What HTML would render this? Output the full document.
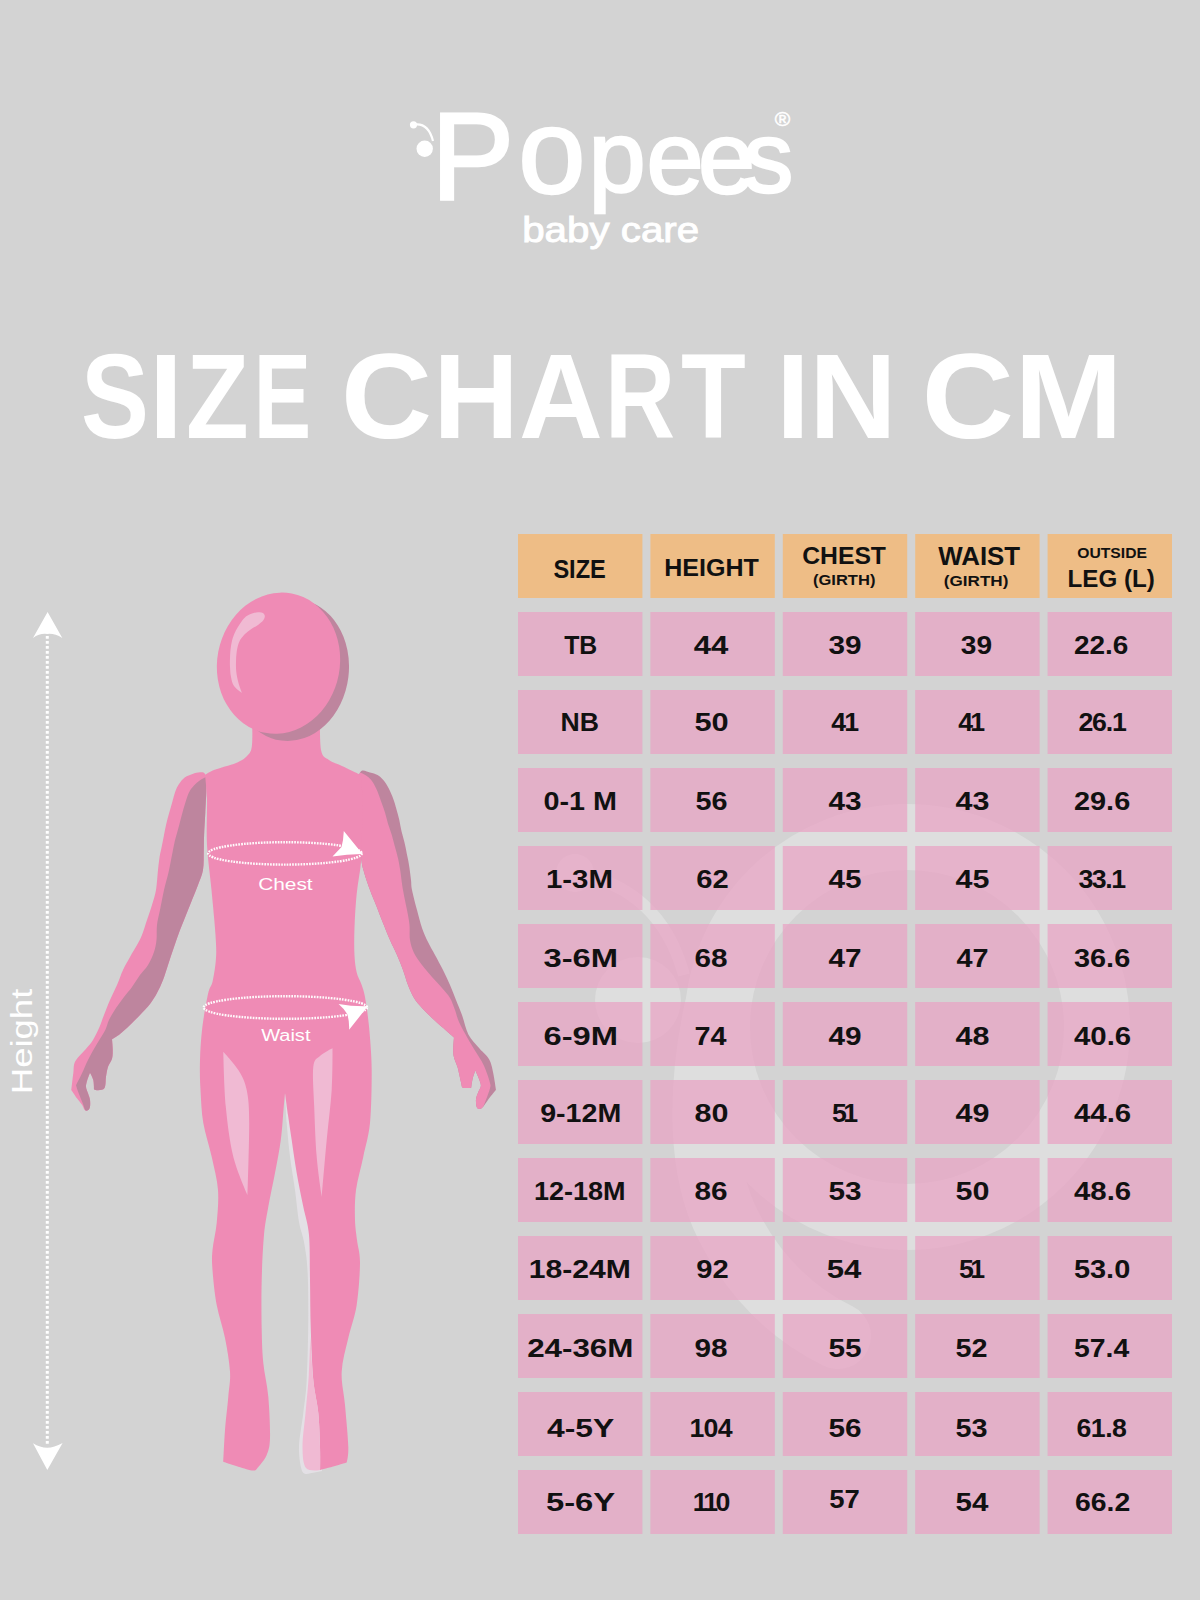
<!DOCTYPE html>
<html><head><meta charset="utf-8"><title>Popees Size Chart in CM</title>
<style>
html,body{margin:0;padding:0;background:#d3d3d3;}
body{width:1200px;height:1600px;overflow:hidden;position:relative;}
svg{position:absolute;left:0;top:0;display:block;}
</style></head>
<body>
<svg width="1200" height="1600" viewBox="0 0 1200 1600">
<rect width="1200" height="1600" fill="#d3d3d3"/>
<g fill="#fff">
<circle cx="424.7" cy="148.7" r="8.2"/>
<circle cx="413.5" cy="124.8" r="3.6"/>
<path d="M413.5 124.8 Q428 122 433 141" fill="none" stroke="#fff" stroke-width="2.2"/>
<text transform="scale(1.000 1)" font-family="Liberation Sans, sans-serif" stroke="#fff" stroke-width="2.4"><tspan x="431.0" y="199.0" font-size="125.0">P</tspan><tspan x="518.3" y="192.6" font-size="120.9">o</tspan><tspan x="588.4" y="191.5" font-size="102.8">p</tspan><tspan x="646.5" y="192.7" font-size="102.7">e</tspan><tspan x="698.0" y="192.7" font-size="102.7">e</tspan><tspan x="743.5" y="191.5" font-size="99.7">s</tspan></text>
<text x="782.5" y="126" font-family="Liberation Sans, sans-serif" font-size="21" text-anchor="middle" stroke="#fff" stroke-width="0.5">&#174;</text>
<text x="522.2" y="242" font-family="Liberation Sans, sans-serif" font-size="35" stroke="#fff" stroke-width="0.9" textLength="177" lengthAdjust="spacingAndGlyphs">baby care</text>
</g>
<g fill="#fff" font-family="Liberation Sans, sans-serif" font-weight="bold" font-size="120.6">
<text y="438"><tspan x="81.04" textLength="67.91" lengthAdjust="spacingAndGlyphs">S</tspan><tspan x="148.73" textLength="34.35" lengthAdjust="spacingAndGlyphs">I</tspan><tspan x="186.12" textLength="62.76" lengthAdjust="spacingAndGlyphs">Z</tspan><tspan x="253.77" textLength="57.37" lengthAdjust="spacingAndGlyphs">E</tspan></text>
<text y="438"><tspan x="340.97" textLength="91.06" lengthAdjust="spacingAndGlyphs">C</tspan><tspan x="433.27" textLength="85.53" lengthAdjust="spacingAndGlyphs">H</tspan><tspan x="519.06" textLength="83.88" lengthAdjust="spacingAndGlyphs">A</tspan><tspan x="604.91" textLength="70.12" lengthAdjust="spacingAndGlyphs">R</tspan><tspan x="681.10" textLength="64.79" lengthAdjust="spacingAndGlyphs">T</tspan></text>
<text y="438"><tspan x="776.05" textLength="33.89" lengthAdjust="spacingAndGlyphs">I</tspan><tspan x="809.33" textLength="87.42" lengthAdjust="spacingAndGlyphs">N</tspan></text>
<text y="438"><tspan x="921.89" textLength="92.18" lengthAdjust="spacingAndGlyphs">C</tspan><tspan x="1014.20" textLength="108.57" lengthAdjust="spacingAndGlyphs">M</tspan></text>
</g>
<g opacity="0.25" fill="#fff">
<circle cx="907" cy="1027" r="190" fill="none" stroke="#fff" stroke-width="66"/>
<path d="M717 1010 C700 1090 700 1170 728 1225 S795 1315 838 1336" fill="none" stroke="#fff" stroke-width="66" stroke-linecap="round"/>
<circle cx="638" cy="1000" r="43"/>
<circle cx="575" cy="873" r="19"/>
<path d="M684 975 Q660 888 575 873" fill="none" stroke="#fff" stroke-width="12"/>
</g>
<rect x="518.0" y="534" width="124.4" height="64" fill="#eebd86"/>
<rect x="650.4" y="534" width="124.4" height="64" fill="#eebd86"/>
<rect x="782.8" y="534" width="124.4" height="64" fill="#eebd86"/>
<rect x="915.2" y="534" width="124.4" height="64" fill="#eebd86"/>
<rect x="1047.6" y="534" width="124.4" height="64" fill="#eebd86"/>
<rect x="518.0" y="612" width="124.4" height="64" fill="rgba(234,161,195,0.7)"/>
<rect x="650.4" y="612" width="124.4" height="64" fill="rgba(234,161,195,0.7)"/>
<rect x="782.8" y="612" width="124.4" height="64" fill="rgba(234,161,195,0.7)"/>
<rect x="915.2" y="612" width="124.4" height="64" fill="rgba(234,161,195,0.7)"/>
<rect x="1047.6" y="612" width="124.4" height="64" fill="rgba(234,161,195,0.7)"/>
<rect x="518.0" y="690" width="124.4" height="64" fill="rgba(234,161,195,0.7)"/>
<rect x="650.4" y="690" width="124.4" height="64" fill="rgba(234,161,195,0.7)"/>
<rect x="782.8" y="690" width="124.4" height="64" fill="rgba(234,161,195,0.7)"/>
<rect x="915.2" y="690" width="124.4" height="64" fill="rgba(234,161,195,0.7)"/>
<rect x="1047.6" y="690" width="124.4" height="64" fill="rgba(234,161,195,0.7)"/>
<rect x="518.0" y="768" width="124.4" height="64" fill="rgba(234,161,195,0.7)"/>
<rect x="650.4" y="768" width="124.4" height="64" fill="rgba(234,161,195,0.7)"/>
<rect x="782.8" y="768" width="124.4" height="64" fill="rgba(234,161,195,0.7)"/>
<rect x="915.2" y="768" width="124.4" height="64" fill="rgba(234,161,195,0.7)"/>
<rect x="1047.6" y="768" width="124.4" height="64" fill="rgba(234,161,195,0.7)"/>
<rect x="518.0" y="846" width="124.4" height="64" fill="rgba(234,161,195,0.7)"/>
<rect x="650.4" y="846" width="124.4" height="64" fill="rgba(234,161,195,0.7)"/>
<rect x="782.8" y="846" width="124.4" height="64" fill="rgba(234,161,195,0.7)"/>
<rect x="915.2" y="846" width="124.4" height="64" fill="rgba(234,161,195,0.7)"/>
<rect x="1047.6" y="846" width="124.4" height="64" fill="rgba(234,161,195,0.7)"/>
<rect x="518.0" y="924" width="124.4" height="64" fill="rgba(234,161,195,0.7)"/>
<rect x="650.4" y="924" width="124.4" height="64" fill="rgba(234,161,195,0.7)"/>
<rect x="782.8" y="924" width="124.4" height="64" fill="rgba(234,161,195,0.7)"/>
<rect x="915.2" y="924" width="124.4" height="64" fill="rgba(234,161,195,0.7)"/>
<rect x="1047.6" y="924" width="124.4" height="64" fill="rgba(234,161,195,0.7)"/>
<rect x="518.0" y="1002" width="124.4" height="64" fill="rgba(234,161,195,0.7)"/>
<rect x="650.4" y="1002" width="124.4" height="64" fill="rgba(234,161,195,0.7)"/>
<rect x="782.8" y="1002" width="124.4" height="64" fill="rgba(234,161,195,0.7)"/>
<rect x="915.2" y="1002" width="124.4" height="64" fill="rgba(234,161,195,0.7)"/>
<rect x="1047.6" y="1002" width="124.4" height="64" fill="rgba(234,161,195,0.7)"/>
<rect x="518.0" y="1080" width="124.4" height="64" fill="rgba(234,161,195,0.7)"/>
<rect x="650.4" y="1080" width="124.4" height="64" fill="rgba(234,161,195,0.7)"/>
<rect x="782.8" y="1080" width="124.4" height="64" fill="rgba(234,161,195,0.7)"/>
<rect x="915.2" y="1080" width="124.4" height="64" fill="rgba(234,161,195,0.7)"/>
<rect x="1047.6" y="1080" width="124.4" height="64" fill="rgba(234,161,195,0.7)"/>
<rect x="518.0" y="1158" width="124.4" height="64" fill="rgba(234,161,195,0.7)"/>
<rect x="650.4" y="1158" width="124.4" height="64" fill="rgba(234,161,195,0.7)"/>
<rect x="782.8" y="1158" width="124.4" height="64" fill="rgba(234,161,195,0.7)"/>
<rect x="915.2" y="1158" width="124.4" height="64" fill="rgba(234,161,195,0.7)"/>
<rect x="1047.6" y="1158" width="124.4" height="64" fill="rgba(234,161,195,0.7)"/>
<rect x="518.0" y="1236" width="124.4" height="64" fill="rgba(234,161,195,0.7)"/>
<rect x="650.4" y="1236" width="124.4" height="64" fill="rgba(234,161,195,0.7)"/>
<rect x="782.8" y="1236" width="124.4" height="64" fill="rgba(234,161,195,0.7)"/>
<rect x="915.2" y="1236" width="124.4" height="64" fill="rgba(234,161,195,0.7)"/>
<rect x="1047.6" y="1236" width="124.4" height="64" fill="rgba(234,161,195,0.7)"/>
<rect x="518.0" y="1314" width="124.4" height="64" fill="rgba(234,161,195,0.7)"/>
<rect x="650.4" y="1314" width="124.4" height="64" fill="rgba(234,161,195,0.7)"/>
<rect x="782.8" y="1314" width="124.4" height="64" fill="rgba(234,161,195,0.7)"/>
<rect x="915.2" y="1314" width="124.4" height="64" fill="rgba(234,161,195,0.7)"/>
<rect x="1047.6" y="1314" width="124.4" height="64" fill="rgba(234,161,195,0.7)"/>
<rect x="518.0" y="1392" width="124.4" height="64" fill="rgba(234,161,195,0.7)"/>
<rect x="650.4" y="1392" width="124.4" height="64" fill="rgba(234,161,195,0.7)"/>
<rect x="782.8" y="1392" width="124.4" height="64" fill="rgba(234,161,195,0.7)"/>
<rect x="915.2" y="1392" width="124.4" height="64" fill="rgba(234,161,195,0.7)"/>
<rect x="1047.6" y="1392" width="124.4" height="64" fill="rgba(234,161,195,0.7)"/>
<rect x="518.0" y="1470" width="124.4" height="64" fill="rgba(234,161,195,0.7)"/>
<rect x="650.4" y="1470" width="124.4" height="64" fill="rgba(234,161,195,0.7)"/>
<rect x="782.8" y="1470" width="124.4" height="64" fill="rgba(234,161,195,0.7)"/>
<rect x="915.2" y="1470" width="124.4" height="64" fill="rgba(234,161,195,0.7)"/>
<rect x="1047.6" y="1470" width="124.4" height="64" fill="rgba(234,161,195,0.7)"/>
<text x="579.60" y="578.4" font-size="26.5" text-anchor="middle" textLength="52.44" lengthAdjust="spacingAndGlyphs" font-family="Liberation Sans, sans-serif" font-weight="bold" fill="#111">SIZE</text>
<text x="711.50" y="576.3" font-size="23.5" text-anchor="middle" textLength="94.63" lengthAdjust="spacingAndGlyphs" font-family="Liberation Sans, sans-serif" font-weight="bold" fill="#111">HEIGHT</text>
<text x="844.10" y="564.3" font-size="24.5" text-anchor="middle" textLength="83.80" lengthAdjust="spacingAndGlyphs" font-family="Liberation Sans, sans-serif" font-weight="bold" fill="#111">CHEST</text>
<text x="844.20" y="585.4" font-size="14.8" text-anchor="middle" textLength="62.42" lengthAdjust="spacingAndGlyphs" font-family="Liberation Sans, sans-serif" font-weight="bold" fill="#111">(GIRTH)</text>
<text x="979.20" y="565.4" font-size="25.0" text-anchor="middle" textLength="81.99" lengthAdjust="spacingAndGlyphs" font-family="Liberation Sans, sans-serif" font-weight="bold" fill="#111">WAIST</text>
<text x="976.10" y="585.6" font-size="14.8" text-anchor="middle" textLength="64.65" lengthAdjust="spacingAndGlyphs" font-family="Liberation Sans, sans-serif" font-weight="bold" fill="#111">(GIRTH)</text>
<text x="1112.10" y="557.8" font-size="15.0" text-anchor="middle" textLength="69.82" lengthAdjust="spacingAndGlyphs" font-family="Liberation Sans, sans-serif" font-weight="bold" fill="#111">OUTSIDE</text>
<text x="1111.20" y="587.1" font-size="24.3" text-anchor="middle" textLength="87.28" lengthAdjust="spacingAndGlyphs" font-family="Liberation Sans, sans-serif" font-weight="bold" fill="#111">LEG (L)</text>
<text x="580.70" y="654.3" font-size="26.7" text-anchor="middle" textLength="33.07" lengthAdjust="spacingAndGlyphs" font-family="Liberation Sans, sans-serif" font-weight="bold" fill="#111">TB</text>
<text x="711.10" y="654.3" font-size="26.7" text-anchor="middle" textLength="34.62" lengthAdjust="spacingAndGlyphs" font-family="Liberation Sans, sans-serif" font-weight="bold" fill="#111">44</text>
<text x="845.10" y="654.3" font-size="26.7" text-anchor="middle" textLength="33.07" lengthAdjust="spacingAndGlyphs" font-family="Liberation Sans, sans-serif" font-weight="bold" fill="#111">39</text>
<text x="976.40" y="654.3" font-size="26.7" text-anchor="middle" textLength="31.22" lengthAdjust="spacingAndGlyphs" font-family="Liberation Sans, sans-serif" font-weight="bold" fill="#111">39</text>
<text x="1101.20" y="654.3" font-size="26.7" text-anchor="middle" textLength="54.42" lengthAdjust="spacingAndGlyphs" font-family="Liberation Sans, sans-serif" font-weight="bold" fill="#111">22.6</text>
<text x="579.70" y="730.8" font-size="26.7" text-anchor="middle" textLength="38.42" lengthAdjust="spacingAndGlyphs" font-family="Liberation Sans, sans-serif" font-weight="bold" fill="#111">NB</text>
<text x="711.60" y="730.8" font-size="26.7" text-anchor="middle" textLength="34.21" lengthAdjust="spacingAndGlyphs" font-family="Liberation Sans, sans-serif" font-weight="bold" fill="#111">50</text>
<text x="845.10" y="730.8" font-size="26.7" text-anchor="middle" textLength="27.87" lengthAdjust="spacing" font-family="Liberation Sans, sans-serif" font-weight="bold" fill="#111">41</text>
<text x="971.70" y="730.8" font-size="26.7" text-anchor="middle" textLength="27.00" lengthAdjust="spacing" font-family="Liberation Sans, sans-serif" font-weight="bold" fill="#111">41</text>
<text x="1102.60" y="730.8" font-size="26.7" text-anchor="middle" textLength="48.43" lengthAdjust="spacing" font-family="Liberation Sans, sans-serif" font-weight="bold" fill="#111">26.1</text>
<text x="580.30" y="810.3" font-size="26.7" text-anchor="middle" textLength="73.50" lengthAdjust="spacingAndGlyphs" font-family="Liberation Sans, sans-serif" font-weight="bold" fill="#111">0-1 M</text>
<text x="711.60" y="810.3" font-size="26.7" text-anchor="middle" textLength="32.04" lengthAdjust="spacingAndGlyphs" font-family="Liberation Sans, sans-serif" font-weight="bold" fill="#111">56</text>
<text x="845.10" y="810.3" font-size="26.7" text-anchor="middle" textLength="33.10" lengthAdjust="spacingAndGlyphs" font-family="Liberation Sans, sans-serif" font-weight="bold" fill="#111">43</text>
<text x="972.50" y="810.3" font-size="26.7" text-anchor="middle" textLength="33.93" lengthAdjust="spacingAndGlyphs" font-family="Liberation Sans, sans-serif" font-weight="bold" fill="#111">43</text>
<text x="1102.10" y="810.3" font-size="26.7" text-anchor="middle" textLength="56.25" lengthAdjust="spacingAndGlyphs" font-family="Liberation Sans, sans-serif" font-weight="bold" fill="#111">29.6</text>
<text x="579.40" y="888.3" font-size="26.7" text-anchor="middle" textLength="66.98" lengthAdjust="spacingAndGlyphs" font-family="Liberation Sans, sans-serif" font-weight="bold" fill="#111">1-3M</text>
<text x="712.50" y="888.3" font-size="26.7" text-anchor="middle" textLength="32.39" lengthAdjust="spacingAndGlyphs" font-family="Liberation Sans, sans-serif" font-weight="bold" fill="#111">62</text>
<text x="845.10" y="888.3" font-size="26.7" text-anchor="middle" textLength="33.07" lengthAdjust="spacingAndGlyphs" font-family="Liberation Sans, sans-serif" font-weight="bold" fill="#111">45</text>
<text x="972.50" y="888.3" font-size="26.7" text-anchor="middle" textLength="33.89" lengthAdjust="spacingAndGlyphs" font-family="Liberation Sans, sans-serif" font-weight="bold" fill="#111">45</text>
<text x="1102.20" y="888.3" font-size="26.7" text-anchor="middle" textLength="47.59" lengthAdjust="spacing" font-family="Liberation Sans, sans-serif" font-weight="bold" fill="#111">33.1</text>
<text x="580.80" y="967.3" font-size="26.7" text-anchor="middle" textLength="74.58" lengthAdjust="spacingAndGlyphs" font-family="Liberation Sans, sans-serif" font-weight="bold" fill="#111">3-6M</text>
<text x="711.10" y="967.3" font-size="26.7" text-anchor="middle" textLength="33.11" lengthAdjust="spacingAndGlyphs" font-family="Liberation Sans, sans-serif" font-weight="bold" fill="#111">68</text>
<text x="845.10" y="967.3" font-size="26.7" text-anchor="middle" textLength="33.07" lengthAdjust="spacingAndGlyphs" font-family="Liberation Sans, sans-serif" font-weight="bold" fill="#111">47</text>
<text x="972.60" y="967.3" font-size="26.7" text-anchor="middle" textLength="32.07" lengthAdjust="spacingAndGlyphs" font-family="Liberation Sans, sans-serif" font-weight="bold" fill="#111">47</text>
<text x="1102.10" y="967.3" font-size="26.7" text-anchor="middle" textLength="56.25" lengthAdjust="spacingAndGlyphs" font-family="Liberation Sans, sans-serif" font-weight="bold" fill="#111">36.6</text>
<text x="580.80" y="1044.8" font-size="26.7" text-anchor="middle" textLength="74.56" lengthAdjust="spacingAndGlyphs" font-family="Liberation Sans, sans-serif" font-weight="bold" fill="#111">6-9M</text>
<text x="710.60" y="1044.8" font-size="26.7" text-anchor="middle" textLength="32.00" lengthAdjust="spacingAndGlyphs" font-family="Liberation Sans, sans-serif" font-weight="bold" fill="#111">74</text>
<text x="845.10" y="1044.8" font-size="26.7" text-anchor="middle" textLength="33.10" lengthAdjust="spacingAndGlyphs" font-family="Liberation Sans, sans-serif" font-weight="bold" fill="#111">49</text>
<text x="972.50" y="1044.8" font-size="26.7" text-anchor="middle" textLength="33.89" lengthAdjust="spacingAndGlyphs" font-family="Liberation Sans, sans-serif" font-weight="bold" fill="#111">48</text>
<text x="1102.60" y="1044.8" font-size="26.7" text-anchor="middle" textLength="57.25" lengthAdjust="spacingAndGlyphs" font-family="Liberation Sans, sans-serif" font-weight="bold" fill="#111">40.6</text>
<text x="580.70" y="1122.3" font-size="26.7" text-anchor="middle" textLength="81.09" lengthAdjust="spacingAndGlyphs" font-family="Liberation Sans, sans-serif" font-weight="bold" fill="#111">9-12M</text>
<text x="711.50" y="1122.3" font-size="26.7" text-anchor="middle" textLength="33.93" lengthAdjust="spacingAndGlyphs" font-family="Liberation Sans, sans-serif" font-weight="bold" fill="#111">80</text>
<text x="845.00" y="1122.3" font-size="26.7" text-anchor="middle" textLength="26.07" lengthAdjust="spacing" font-family="Liberation Sans, sans-serif" font-weight="bold" fill="#111">51</text>
<text x="972.50" y="1122.3" font-size="26.7" text-anchor="middle" textLength="33.93" lengthAdjust="spacingAndGlyphs" font-family="Liberation Sans, sans-serif" font-weight="bold" fill="#111">49</text>
<text x="1102.60" y="1122.3" font-size="26.7" text-anchor="middle" textLength="57.25" lengthAdjust="spacingAndGlyphs" font-family="Liberation Sans, sans-serif" font-weight="bold" fill="#111">44.6</text>
<text x="579.80" y="1200.3" font-size="26.7" text-anchor="middle" textLength="91.69" lengthAdjust="spacingAndGlyphs" font-family="Liberation Sans, sans-serif" font-weight="bold" fill="#111">12-18M</text>
<text x="711.10" y="1200.3" font-size="26.7" text-anchor="middle" textLength="33.11" lengthAdjust="spacingAndGlyphs" font-family="Liberation Sans, sans-serif" font-weight="bold" fill="#111">86</text>
<text x="845.10" y="1200.3" font-size="26.7" text-anchor="middle" textLength="33.07" lengthAdjust="spacingAndGlyphs" font-family="Liberation Sans, sans-serif" font-weight="bold" fill="#111">53</text>
<text x="972.50" y="1200.3" font-size="26.7" text-anchor="middle" textLength="33.93" lengthAdjust="spacingAndGlyphs" font-family="Liberation Sans, sans-serif" font-weight="bold" fill="#111">50</text>
<text x="1102.60" y="1200.3" font-size="26.7" text-anchor="middle" textLength="57.25" lengthAdjust="spacingAndGlyphs" font-family="Liberation Sans, sans-serif" font-weight="bold" fill="#111">48.6</text>
<text x="579.80" y="1278.3" font-size="26.7" text-anchor="middle" textLength="102.18" lengthAdjust="spacingAndGlyphs" font-family="Liberation Sans, sans-serif" font-weight="bold" fill="#111">18-24M</text>
<text x="712.50" y="1278.3" font-size="26.7" text-anchor="middle" textLength="32.39" lengthAdjust="spacingAndGlyphs" font-family="Liberation Sans, sans-serif" font-weight="bold" fill="#111">92</text>
<text x="844.10" y="1278.3" font-size="26.7" text-anchor="middle" textLength="34.62" lengthAdjust="spacingAndGlyphs" font-family="Liberation Sans, sans-serif" font-weight="bold" fill="#111">54</text>
<text x="972.00" y="1278.3" font-size="26.7" text-anchor="middle" textLength="26.07" lengthAdjust="spacing" font-family="Liberation Sans, sans-serif" font-weight="bold" fill="#111">51</text>
<text x="1102.10" y="1278.3" font-size="26.7" text-anchor="middle" textLength="56.34" lengthAdjust="spacingAndGlyphs" font-family="Liberation Sans, sans-serif" font-weight="bold" fill="#111">53.0</text>
<text x="580.30" y="1357.3" font-size="26.7" text-anchor="middle" textLength="106.29" lengthAdjust="spacingAndGlyphs" font-family="Liberation Sans, sans-serif" font-weight="bold" fill="#111">24-36M</text>
<text x="711.10" y="1357.3" font-size="26.7" text-anchor="middle" textLength="33.11" lengthAdjust="spacingAndGlyphs" font-family="Liberation Sans, sans-serif" font-weight="bold" fill="#111">98</text>
<text x="845.10" y="1357.3" font-size="26.7" text-anchor="middle" textLength="33.10" lengthAdjust="spacingAndGlyphs" font-family="Liberation Sans, sans-serif" font-weight="bold" fill="#111">55</text>
<text x="971.60" y="1357.3" font-size="26.7" text-anchor="middle" textLength="32.04" lengthAdjust="spacingAndGlyphs" font-family="Liberation Sans, sans-serif" font-weight="bold" fill="#111">52</text>
<text x="1101.60" y="1357.3" font-size="26.7" text-anchor="middle" textLength="55.25" lengthAdjust="spacingAndGlyphs" font-family="Liberation Sans, sans-serif" font-weight="bold" fill="#111">57.4</text>
<text x="580.60" y="1437.3" font-size="26.7" text-anchor="middle" textLength="67.21" lengthAdjust="spacingAndGlyphs" font-family="Liberation Sans, sans-serif" font-weight="bold" fill="#111">4-5Y</text>
<text x="711.00" y="1437.3" font-size="26.7" text-anchor="middle" textLength="43.25" lengthAdjust="spacing" font-family="Liberation Sans, sans-serif" font-weight="bold" fill="#111">104</text>
<text x="845.10" y="1437.3" font-size="26.7" text-anchor="middle" textLength="33.07" lengthAdjust="spacingAndGlyphs" font-family="Liberation Sans, sans-serif" font-weight="bold" fill="#111">56</text>
<text x="971.60" y="1437.3" font-size="26.7" text-anchor="middle" textLength="32.04" lengthAdjust="spacingAndGlyphs" font-family="Liberation Sans, sans-serif" font-weight="bold" fill="#111">53</text>
<text x="1101.70" y="1437.3" font-size="26.7" text-anchor="middle" textLength="50.24" lengthAdjust="spacing" font-family="Liberation Sans, sans-serif" font-weight="bold" fill="#111">61.8</text>
<text x="580.60" y="1511.3" font-size="26.7" text-anchor="middle" textLength="69.31" lengthAdjust="spacingAndGlyphs" font-family="Liberation Sans, sans-serif" font-weight="bold" fill="#111">5-6Y</text>
<text x="711.50" y="1511.3" font-size="26.7" text-anchor="middle" textLength="37.44" lengthAdjust="spacing" font-family="Liberation Sans, sans-serif" font-weight="bold" fill="#111">110</text>
<text x="844.60" y="1507.8" font-size="26.7" text-anchor="middle" textLength="30.57" lengthAdjust="spacingAndGlyphs" font-family="Liberation Sans, sans-serif" font-weight="bold" fill="#111">57</text>
<text x="972.00" y="1511.3" font-size="26.7" text-anchor="middle" textLength="32.83" lengthAdjust="spacingAndGlyphs" font-family="Liberation Sans, sans-serif" font-weight="bold" fill="#111">54</text>
<text x="1102.60" y="1511.3" font-size="26.7" text-anchor="middle" textLength="55.25" lengthAdjust="spacingAndGlyphs" font-family="Liberation Sans, sans-serif" font-weight="bold" fill="#111">66.2</text>
<clipPath id="cl"><path d="M200.0 772.2 C197.9 772.2 195.0 773.0 192.5 773.9 C190.0 774.8 187.2 775.6 185.0 777.3 C182.8 779.0 180.6 781.6 179.0 784.0 C177.4 786.4 176.4 788.5 175.3 791.5 C174.2 794.5 173.3 798.5 172.3 802.0 C171.3 805.5 170.3 808.9 169.3 812.5 C168.3 816.1 167.2 820.0 166.3 823.8 C165.4 827.5 164.8 831.2 164.0 835.0 C163.2 838.8 162.6 842.5 161.8 846.3 C161.1 850.0 160.1 853.5 159.5 857.5 C158.9 861.5 158.6 864.6 158.0 870.0 C157.4 875.4 157.0 884.2 156.0 890.0 C155.0 895.8 153.5 900.0 152.0 905.0 C150.5 910.0 148.7 915.0 147.0 920.0 C145.3 925.0 143.7 930.8 142.0 935.0 C140.3 939.2 139.0 941.3 137.0 945.0 C135.0 948.7 132.3 952.8 130.0 957.0 C127.7 961.2 125.2 965.3 123.0 970.0 C120.8 974.7 119.2 980.0 117.0 985.0 C114.8 990.0 112.2 995.0 110.0 1000.0 C107.8 1005.0 105.8 1010.5 104.0 1015.0 C102.2 1019.5 101.3 1022.8 99.5 1027.0 C97.7 1031.2 95.1 1036.5 93.0 1040.0 C90.9 1043.5 89.7 1044.5 86.7 1048.0 C83.8 1051.5 77.5 1057.1 75.3 1061.3 C73.1 1065.5 74.0 1068.5 73.3 1073.3 C72.6 1078.1 71.3 1090.0 71.3 1090.0 C71.3 1090.0 74.9 1095.5 76.7 1098.0 C78.5 1100.5 80.7 1102.7 82.0 1104.7 C83.3 1106.7 83.7 1109.1 84.7 1110.0 C85.7 1110.9 87.1 1110.8 88.0 1110.3 C88.9 1109.8 89.7 1108.4 90.0 1106.7 C90.3 1105.0 90.3 1102.2 90.0 1100.0 C89.7 1097.8 88.7 1095.5 88.0 1093.3 C87.3 1091.1 86.1 1088.9 86.0 1086.7 C85.9 1084.5 86.6 1082.3 87.3 1080.0 C88.0 1077.7 90.0 1072.7 90.0 1072.7 C90.0 1072.7 92.6 1077.2 93.3 1080.0 C94.0 1082.8 94.0 1089.3 94.0 1089.3 C94.0 1089.3 95.2 1090.3 96.7 1090.3 C98.2 1090.3 101.9 1090.1 103.3 1089.3 C104.7 1088.5 104.8 1087.4 105.3 1085.3 C105.8 1083.2 105.5 1079.8 106.0 1076.7 C106.5 1073.6 107.0 1069.7 108.0 1066.7 C109.0 1063.7 111.2 1061.5 112.0 1058.7 C112.8 1055.9 112.7 1053.2 112.7 1050.0 C112.7 1046.8 112.0 1039.3 112.0 1039.3 C112.0 1039.3 117.0 1036.4 120.0 1034.0 C123.0 1031.6 126.7 1028.2 130.0 1025.0 C133.3 1021.8 136.7 1018.5 140.0 1015.0 C143.3 1011.5 147.2 1007.7 150.0 1004.0 C152.8 1000.3 154.8 997.0 157.0 993.0 C159.2 989.0 161.2 984.7 163.0 980.0 C164.8 975.3 166.2 970.5 168.0 965.0 C169.8 959.5 172.0 952.8 174.0 947.0 C176.0 941.2 178.0 935.3 180.0 930.0 C182.0 924.7 184.0 920.0 186.0 915.0 C188.0 910.0 190.0 905.0 192.0 900.0 C194.0 895.0 196.2 890.0 198.0 885.0 C199.8 880.0 202.0 875.8 203.0 870.0 C204.0 864.2 203.6 855.8 203.8 850.0 C204.0 844.2 203.8 841.2 204.1 835.0 C204.3 828.8 204.9 820.8 205.3 812.5 C205.7 804.2 206.5 791.4 206.4 785.0 C206.3 778.6 206.1 776.1 205.0 774.0 C203.9 771.9 202.1 772.2 200.0 772.2Z"/></clipPath>
<clipPath id="cr"><path d="M360.0 772.6 C362.0 768.0 367.1 772.0 370.0 772.4 C372.9 772.8 375.2 773.7 377.5 775.0 C379.8 776.3 381.6 778.0 383.5 780.2 C385.4 782.5 387.2 785.4 388.8 788.5 C390.4 791.6 392.1 795.6 393.3 799.0 C394.6 802.4 395.3 805.3 396.3 808.8 C397.3 812.3 398.4 816.2 399.3 820.0 C400.2 823.8 400.6 827.5 401.5 831.3 C402.4 835.0 403.6 838.8 404.5 842.5 C405.4 846.2 406.1 850.0 406.8 853.8 C407.6 857.5 408.3 860.6 409.0 865.0 C409.7 869.4 410.5 875.8 411.0 880.0 C411.5 884.2 411.0 885.0 412.0 890.0 C413.0 895.0 415.3 903.7 417.0 910.0 C418.7 916.3 420.2 922.7 422.0 928.0 C423.8 933.3 425.8 937.5 428.0 942.0 C430.2 946.5 432.5 950.3 435.0 955.0 C437.5 959.7 440.5 965.0 443.0 970.0 C445.5 975.0 447.8 980.0 450.0 985.0 C452.2 990.0 454.0 995.0 456.0 1000.0 C458.0 1005.0 459.9 1009.2 462.0 1015.0 C464.1 1020.8 465.6 1029.1 468.5 1034.7 C471.4 1040.3 475.8 1043.9 479.5 1048.5 C483.2 1053.1 487.8 1055.3 490.5 1062.2 C493.2 1069.1 496.0 1089.7 496.0 1089.7 C496.0 1089.7 492.6 1093.8 490.5 1096.6 C488.4 1099.3 485.4 1104.1 483.6 1106.2 C481.8 1108.3 480.6 1108.9 479.5 1109.0 C478.4 1109.1 477.3 1108.5 476.7 1106.9 C476.1 1105.3 475.8 1101.7 476.0 1099.3 C476.2 1096.9 477.3 1094.8 478.1 1092.5 C478.9 1090.2 480.9 1088.2 480.9 1085.6 C480.9 1083.0 479.0 1079.2 478.1 1076.7 C477.2 1074.2 475.4 1070.5 475.4 1070.5 C475.4 1070.5 473.3 1075.8 472.6 1078.7 C471.9 1081.6 471.2 1087.7 471.2 1087.7 C471.2 1087.7 464.7 1088.6 463.0 1087.7 C461.3 1086.8 461.9 1085.7 461.0 1082.2 C460.1 1078.8 458.8 1071.6 457.5 1067.0 C456.2 1062.4 454.0 1059.6 453.4 1054.7 C452.8 1049.8 454.0 1037.5 454.0 1037.5 C454.0 1037.5 445.7 1030.2 442.0 1027.0 C438.3 1023.8 435.3 1021.2 432.0 1018.0 C428.7 1014.8 425.0 1011.3 422.0 1008.0 C419.0 1004.7 416.3 1001.8 414.0 998.0 C411.7 994.2 409.8 989.7 408.0 985.0 C406.2 980.3 404.8 975.0 403.0 970.0 C401.2 965.0 399.2 960.0 397.0 955.0 C394.8 950.0 392.3 945.3 390.0 940.0 C387.7 934.7 385.3 928.8 383.0 923.0 C380.7 917.2 378.2 910.5 376.0 905.0 C373.8 899.5 372.0 895.5 370.0 890.0 C368.0 884.5 365.5 877.8 364.0 872.0 C362.5 866.2 362.0 867.0 361.0 855.0 C360.0 843.0 358.2 813.7 358.0 800.0 C357.8 786.3 358.0 777.2 360.0 772.6Z"/></clipPath>
<path d="M285.0 1094.0 C285.0 1094.0 285.9 1112.5 286.7 1123.0 C287.5 1133.5 288.6 1145.5 290.0 1156.7 C291.4 1167.9 293.5 1179.1 295.0 1190.0 C296.5 1200.9 297.5 1213.3 299.0 1222.0 C300.5 1230.7 302.6 1234.0 304.0 1242.0 C305.4 1250.0 306.8 1257.0 307.5 1270.0 C308.2 1283.0 308.4 1301.7 308.3 1320.0 C308.2 1338.3 307.5 1364.5 306.7 1380.0 C305.9 1395.5 304.6 1401.9 303.3 1413.0 C302.0 1424.1 299.3 1437.2 299.0 1446.7 C298.7 1456.2 300.4 1465.5 301.7 1470.0 C303.0 1474.5 307.0 1474.0 307.0 1474.0 C307.0 1474.0 322.0 1471.0 322.0 1471.0 C322.0 1471.0 322.0 1100.0 322.0 1100.0 C322.0 1100.0 285.0 1094.0 285.0 1094.0Z" fill="#e3e0e5"/>
<path d="M200.0 772.2 C197.9 772.2 195.0 773.0 192.5 773.9 C190.0 774.8 187.2 775.6 185.0 777.3 C182.8 779.0 180.6 781.6 179.0 784.0 C177.4 786.4 176.4 788.5 175.3 791.5 C174.2 794.5 173.3 798.5 172.3 802.0 C171.3 805.5 170.3 808.9 169.3 812.5 C168.3 816.1 167.2 820.0 166.3 823.8 C165.4 827.5 164.8 831.2 164.0 835.0 C163.2 838.8 162.6 842.5 161.8 846.3 C161.1 850.0 160.1 853.5 159.5 857.5 C158.9 861.5 158.6 864.6 158.0 870.0 C157.4 875.4 157.0 884.2 156.0 890.0 C155.0 895.8 153.5 900.0 152.0 905.0 C150.5 910.0 148.7 915.0 147.0 920.0 C145.3 925.0 143.7 930.8 142.0 935.0 C140.3 939.2 139.0 941.3 137.0 945.0 C135.0 948.7 132.3 952.8 130.0 957.0 C127.7 961.2 125.2 965.3 123.0 970.0 C120.8 974.7 119.2 980.0 117.0 985.0 C114.8 990.0 112.2 995.0 110.0 1000.0 C107.8 1005.0 105.8 1010.5 104.0 1015.0 C102.2 1019.5 101.3 1022.8 99.5 1027.0 C97.7 1031.2 95.1 1036.5 93.0 1040.0 C90.9 1043.5 89.7 1044.5 86.7 1048.0 C83.8 1051.5 77.5 1057.1 75.3 1061.3 C73.1 1065.5 74.0 1068.5 73.3 1073.3 C72.6 1078.1 71.3 1090.0 71.3 1090.0 C71.3 1090.0 74.9 1095.5 76.7 1098.0 C78.5 1100.5 80.7 1102.7 82.0 1104.7 C83.3 1106.7 83.7 1109.1 84.7 1110.0 C85.7 1110.9 87.1 1110.8 88.0 1110.3 C88.9 1109.8 89.7 1108.4 90.0 1106.7 C90.3 1105.0 90.3 1102.2 90.0 1100.0 C89.7 1097.8 88.7 1095.5 88.0 1093.3 C87.3 1091.1 86.1 1088.9 86.0 1086.7 C85.9 1084.5 86.6 1082.3 87.3 1080.0 C88.0 1077.7 90.0 1072.7 90.0 1072.7 C90.0 1072.7 92.6 1077.2 93.3 1080.0 C94.0 1082.8 94.0 1089.3 94.0 1089.3 C94.0 1089.3 95.2 1090.3 96.7 1090.3 C98.2 1090.3 101.9 1090.1 103.3 1089.3 C104.7 1088.5 104.8 1087.4 105.3 1085.3 C105.8 1083.2 105.5 1079.8 106.0 1076.7 C106.5 1073.6 107.0 1069.7 108.0 1066.7 C109.0 1063.7 111.2 1061.5 112.0 1058.7 C112.8 1055.9 112.7 1053.2 112.7 1050.0 C112.7 1046.8 112.0 1039.3 112.0 1039.3 C112.0 1039.3 117.0 1036.4 120.0 1034.0 C123.0 1031.6 126.7 1028.2 130.0 1025.0 C133.3 1021.8 136.7 1018.5 140.0 1015.0 C143.3 1011.5 147.2 1007.7 150.0 1004.0 C152.8 1000.3 154.8 997.0 157.0 993.0 C159.2 989.0 161.2 984.7 163.0 980.0 C164.8 975.3 166.2 970.5 168.0 965.0 C169.8 959.5 172.0 952.8 174.0 947.0 C176.0 941.2 178.0 935.3 180.0 930.0 C182.0 924.7 184.0 920.0 186.0 915.0 C188.0 910.0 190.0 905.0 192.0 900.0 C194.0 895.0 196.2 890.0 198.0 885.0 C199.8 880.0 202.0 875.8 203.0 870.0 C204.0 864.2 203.6 855.8 203.8 850.0 C204.0 844.2 203.8 841.2 204.1 835.0 C204.3 828.8 204.9 820.8 205.3 812.5 C205.7 804.2 206.5 791.4 206.4 785.0 C206.3 778.6 206.1 776.1 205.0 774.0 C203.9 771.9 202.1 772.2 200.0 772.2Z" fill="#ef8bb5"/>
<path d="M208.0 776.0 C208.0 776.0 202.3 778.7 200.0 780.3 C197.7 781.9 195.8 783.6 194.0 785.5 C192.2 787.4 190.8 789.2 189.5 791.5 C188.2 793.8 187.5 796.1 186.5 799.0 C185.5 801.9 184.5 805.3 183.5 808.8 C182.5 812.3 181.5 816.2 180.5 820.0 C179.5 823.8 178.5 827.5 177.5 831.3 C176.5 835.0 175.5 838.1 174.5 842.5 C173.5 846.9 172.5 852.5 171.5 857.5 C170.5 862.5 169.8 867.1 168.5 872.5 C167.2 877.9 165.4 883.8 164.0 890.0 C162.6 896.2 161.2 904.2 160.0 910.0 C158.8 915.8 157.6 920.0 157.0 925.0 C156.4 930.0 157.0 935.5 156.5 940.0 C156.0 944.5 155.4 947.8 154.0 952.0 C152.6 956.2 150.3 961.2 148.0 965.0 C145.7 968.8 142.7 971.3 140.0 975.0 C137.3 978.7 134.7 983.3 132.0 987.0 C129.3 990.7 126.7 993.5 124.0 997.0 C121.3 1000.5 118.5 1004.2 116.0 1008.0 C113.5 1011.8 110.8 1016.3 109.0 1020.0 C107.2 1023.7 107.2 1026.1 105.3 1030.0 C103.3 1033.9 100.2 1038.3 97.3 1043.3 C94.4 1048.3 90.5 1055.0 88.0 1060.0 C85.5 1065.0 84.0 1069.1 82.0 1073.3 C80.0 1077.5 76.0 1085.3 76.0 1085.3 C76.0 1085.3 77.6 1090.3 78.7 1093.3 C79.8 1096.3 81.5 1100.0 82.7 1103.3 C83.9 1106.6 86.0 1113.0 86.0 1113.0 C86.0 1113.0 140.0 1113.0 140.0 1113.0 C140.0 1113.0 240.0 1000.0 240.0 1000.0 C240.0 1000.0 240.0 776.0 240.0 776.0 C240.0 776.0 208.0 776.0 208.0 776.0Z" fill="#be859e" clip-path="url(#cl)"/>
<path d="M360.0 772.6 C362.0 768.0 367.1 772.0 370.0 772.4 C372.9 772.8 375.2 773.7 377.5 775.0 C379.8 776.3 381.6 778.0 383.5 780.2 C385.4 782.5 387.2 785.4 388.8 788.5 C390.4 791.6 392.1 795.6 393.3 799.0 C394.6 802.4 395.3 805.3 396.3 808.8 C397.3 812.3 398.4 816.2 399.3 820.0 C400.2 823.8 400.6 827.5 401.5 831.3 C402.4 835.0 403.6 838.8 404.5 842.5 C405.4 846.2 406.1 850.0 406.8 853.8 C407.6 857.5 408.3 860.6 409.0 865.0 C409.7 869.4 410.5 875.8 411.0 880.0 C411.5 884.2 411.0 885.0 412.0 890.0 C413.0 895.0 415.3 903.7 417.0 910.0 C418.7 916.3 420.2 922.7 422.0 928.0 C423.8 933.3 425.8 937.5 428.0 942.0 C430.2 946.5 432.5 950.3 435.0 955.0 C437.5 959.7 440.5 965.0 443.0 970.0 C445.5 975.0 447.8 980.0 450.0 985.0 C452.2 990.0 454.0 995.0 456.0 1000.0 C458.0 1005.0 459.9 1009.2 462.0 1015.0 C464.1 1020.8 465.6 1029.1 468.5 1034.7 C471.4 1040.3 475.8 1043.9 479.5 1048.5 C483.2 1053.1 487.8 1055.3 490.5 1062.2 C493.2 1069.1 496.0 1089.7 496.0 1089.7 C496.0 1089.7 492.6 1093.8 490.5 1096.6 C488.4 1099.3 485.4 1104.1 483.6 1106.2 C481.8 1108.3 480.6 1108.9 479.5 1109.0 C478.4 1109.1 477.3 1108.5 476.7 1106.9 C476.1 1105.3 475.8 1101.7 476.0 1099.3 C476.2 1096.9 477.3 1094.8 478.1 1092.5 C478.9 1090.2 480.9 1088.2 480.9 1085.6 C480.9 1083.0 479.0 1079.2 478.1 1076.7 C477.2 1074.2 475.4 1070.5 475.4 1070.5 C475.4 1070.5 473.3 1075.8 472.6 1078.7 C471.9 1081.6 471.2 1087.7 471.2 1087.7 C471.2 1087.7 464.7 1088.6 463.0 1087.7 C461.3 1086.8 461.9 1085.7 461.0 1082.2 C460.1 1078.8 458.8 1071.6 457.5 1067.0 C456.2 1062.4 454.0 1059.6 453.4 1054.7 C452.8 1049.8 454.0 1037.5 454.0 1037.5 C454.0 1037.5 445.7 1030.2 442.0 1027.0 C438.3 1023.8 435.3 1021.2 432.0 1018.0 C428.7 1014.8 425.0 1011.3 422.0 1008.0 C419.0 1004.7 416.3 1001.8 414.0 998.0 C411.7 994.2 409.8 989.7 408.0 985.0 C406.2 980.3 404.8 975.0 403.0 970.0 C401.2 965.0 399.2 960.0 397.0 955.0 C394.8 950.0 392.3 945.3 390.0 940.0 C387.7 934.7 385.3 928.8 383.0 923.0 C380.7 917.2 378.2 910.5 376.0 905.0 C373.8 899.5 372.0 895.5 370.0 890.0 C368.0 884.5 365.5 877.8 364.0 872.0 C362.5 866.2 362.0 867.0 361.0 855.0 C360.0 843.0 358.2 813.7 358.0 800.0 C357.8 786.3 358.0 777.2 360.0 772.6Z" fill="#be859e"/>
<path d="M355.0 771.0 C355.0 771.0 360.2 772.5 362.5 773.5 C364.8 774.5 366.8 775.8 368.5 777.2 C370.2 778.8 371.5 780.1 373.0 782.5 C374.5 784.9 376.1 788.2 377.5 791.5 C378.9 794.8 380.1 798.5 381.3 802.0 C382.6 805.5 383.9 808.9 385.0 812.5 C386.1 816.1 386.9 820.0 388.0 823.8 C389.1 827.5 390.7 831.2 391.8 835.0 C392.9 838.8 393.8 842.5 394.8 846.3 C395.8 850.0 396.9 853.8 397.8 857.5 C398.7 861.2 399.1 863.4 400.0 868.8 C400.9 874.2 401.8 883.1 403.0 890.0 C404.2 896.9 405.9 904.2 407.0 910.0 C408.1 915.8 409.0 920.0 409.5 925.0 C410.0 930.0 409.2 935.3 410.0 940.0 C410.8 944.7 412.0 948.8 414.0 953.0 C416.0 957.2 419.0 961.0 422.0 965.0 C425.0 969.0 428.7 973.2 432.0 977.0 C435.3 980.8 439.0 984.5 442.0 988.0 C445.0 991.5 447.8 994.3 450.0 998.0 C452.2 1001.7 453.5 1006.0 455.0 1010.0 C456.5 1014.0 456.9 1017.3 459.0 1022.0 C461.1 1026.7 464.8 1033.1 467.5 1038.0 C470.2 1042.9 472.7 1046.7 475.4 1051.2 C478.1 1055.7 481.2 1059.8 483.6 1065.0 C486.0 1070.2 488.8 1078.2 489.8 1082.2 C490.8 1086.2 490.8 1085.0 489.8 1089.0 C488.8 1093.0 483.6 1106.2 483.6 1106.2 C483.6 1106.2 483.6 1125.0 483.6 1125.0 C483.6 1125.0 340.0 1125.0 340.0 1125.0 C340.0 1125.0 340.0 771.0 340.0 771.0 C340.0 771.0 355.0 771.0 355.0 771.0Z" fill="#ef8bb5" clip-path="url(#cr)"/>
<path d="M252.0 712.0 C252.0 712.0 252.8 737.7 252.0 745.0 C251.2 752.3 249.7 753.0 247.0 756.0 C244.3 759.0 241.5 760.7 236.0 763.0 C230.5 765.3 219.2 768.0 214.0 770.0 C208.8 772.0 205.0 775.0 205.0 775.0 C205.0 775.0 206.7 788.3 207.0 800.0 C207.3 811.7 206.2 830.0 207.0 845.0 C207.8 860.0 210.1 875.0 211.5 890.0 C212.9 905.0 214.8 923.7 215.5 935.0 C216.2 946.3 216.5 950.3 216.0 958.0 C215.5 965.7 214.0 975.0 212.7 981.0 C211.4 987.0 209.7 986.2 208.0 994.0 C206.3 1001.8 203.6 1016.6 202.3 1027.6 C201.0 1038.6 200.3 1049.6 200.0 1060.0 C199.7 1070.4 199.9 1079.5 200.5 1090.0 C201.1 1100.5 201.4 1111.9 203.3 1123.0 C205.2 1134.1 209.2 1145.5 211.7 1156.7 C214.1 1167.9 217.2 1179.0 218.0 1190.0 C218.8 1201.0 217.6 1213.0 216.7 1223.0 C215.8 1233.0 213.2 1242.2 212.5 1250.0 C211.8 1257.8 211.8 1260.8 212.5 1270.0 C213.2 1279.2 214.6 1293.7 216.7 1305.0 C218.8 1316.3 222.8 1326.9 225.0 1338.0 C227.2 1349.1 229.4 1361.9 230.0 1371.7 C230.6 1381.5 229.1 1387.0 228.3 1396.7 C227.5 1406.4 225.8 1419.2 225.0 1430.0 C224.2 1440.8 223.3 1461.7 223.3 1461.7 C223.3 1461.7 233.3 1465.2 238.3 1466.7 C243.3 1468.2 250.0 1470.5 253.3 1470.5 C256.6 1470.5 256.1 1469.6 258.3 1467.0 C260.5 1464.4 264.8 1459.8 266.7 1455.0 C268.6 1450.2 269.7 1447.7 270.0 1438.0 C270.3 1428.3 269.4 1409.2 268.3 1396.7 C267.2 1384.2 264.4 1374.1 263.3 1363.0 C262.2 1351.9 262.0 1343.8 261.7 1330.0 C261.4 1316.2 261.3 1295.8 261.7 1280.0 C262.1 1264.2 262.9 1247.2 264.0 1235.0 C265.1 1222.8 266.5 1217.0 268.3 1206.7 C270.1 1196.4 272.9 1184.1 275.0 1173.0 C277.1 1161.9 279.4 1150.5 280.8 1140.0 C282.2 1129.5 282.8 1117.8 283.5 1110.0 C284.2 1102.2 285.0 1093.0 285.0 1093.0 C285.0 1093.0 286.9 1107.2 288.0 1115.0 C289.1 1122.8 290.2 1130.3 291.7 1140.0 C293.1 1149.7 294.8 1161.9 296.7 1173.0 C298.6 1184.1 301.2 1196.4 303.3 1206.7 C305.4 1217.0 307.9 1222.8 309.0 1235.0 C310.1 1247.2 309.7 1264.2 310.0 1280.0 C310.3 1295.8 310.2 1313.3 310.8 1330.0 C311.4 1346.7 312.1 1366.2 313.3 1380.0 C314.6 1393.8 317.2 1401.9 318.3 1413.0 C319.4 1424.1 319.7 1437.2 320.0 1446.7 C320.3 1456.2 320.0 1470.0 320.0 1470.0 C320.0 1470.0 330.6 1467.2 335.0 1466.0 C339.4 1464.8 346.7 1462.5 346.7 1462.5 C346.7 1462.5 348.6 1456.3 348.3 1446.7 C348.0 1437.1 346.1 1417.5 345.0 1405.0 C343.9 1392.5 341.1 1382.9 341.7 1371.7 C342.2 1360.5 345.8 1349.1 348.3 1338.0 C350.8 1326.9 354.8 1317.5 356.7 1305.0 C358.6 1292.5 359.9 1273.8 360.0 1263.0 C360.1 1252.2 357.8 1247.2 357.0 1240.0 C356.2 1232.8 355.2 1228.3 355.0 1220.0 C354.8 1211.7 354.6 1200.5 356.0 1190.0 C357.4 1179.5 361.0 1167.9 363.3 1156.7 C365.6 1145.5 368.6 1137.0 370.0 1123.0 C371.4 1109.0 371.7 1086.8 371.7 1073.0 C371.7 1059.2 370.8 1049.2 370.2 1040.0 C369.6 1030.8 368.9 1025.0 368.0 1017.5 C367.1 1010.0 365.7 1000.6 364.6 995.0 C363.5 989.4 362.5 987.5 361.2 983.7 C359.9 980.0 357.8 977.2 356.7 972.5 C355.6 967.8 354.9 963.1 354.5 955.6 C354.1 948.1 354.1 937.8 354.5 927.5 C354.9 917.2 355.6 904.6 356.7 893.7 C357.8 882.8 360.1 872.6 361.0 862.0 C361.9 851.4 361.8 842.0 362.0 830.0 C362.2 818.0 362.2 799.2 362.0 790.0 C361.8 780.8 361.0 775.0 361.0 775.0 C361.0 775.0 347.3 768.5 342.0 766.0 C336.7 763.5 332.5 762.7 329.0 760.0 C325.5 757.3 322.5 758.0 321.0 750.0 C319.5 742.0 320.0 712.0 320.0 712.0 C320.0 712.0 252.0 712.0 252.0 712.0Z" fill="#ef8bb5"/>
<path d="M310.3 1336.0 C310.3 1336.0 312.0 1367.2 313.3 1380.0 C314.6 1392.8 317.2 1401.9 318.3 1413.0 C319.4 1424.1 319.7 1437.2 320.0 1446.7 C320.3 1456.2 320.3 1470.0 320.3 1470.0 C320.3 1470.0 309.0 1471.9 306.0 1468.0 C303.0 1464.1 302.6 1455.9 302.5 1446.7 C302.4 1437.5 304.4 1425.0 305.5 1413.0 C306.6 1401.0 308.0 1387.8 308.8 1375.0 C309.6 1362.2 310.3 1336.0 310.3 1336.0Z" fill="#f0bad3"/>
<path d="M223.3 1051.7 C223.3 1051.7 234.4 1063.6 238.3 1070.0 C242.2 1076.4 244.9 1081.2 246.7 1090.0 C248.5 1098.8 249.1 1105.5 249.2 1123.0 C249.3 1140.5 247.5 1195.0 247.5 1195.0 C247.5 1195.0 236.9 1171.4 233.3 1156.7 C229.7 1142.0 227.5 1124.2 225.8 1106.7 C224.1 1089.2 223.3 1051.7 223.3 1051.7Z" fill="#f0bad3"/>
<path d="M332.5 1048.3 C332.5 1048.3 332.7 1074.7 331.7 1090.0 C330.7 1105.3 328.4 1122.2 326.7 1140.0 C325.0 1157.8 321.7 1196.7 321.7 1196.7 C321.7 1196.7 317.9 1171.7 316.7 1156.7 C315.4 1141.7 314.8 1121.7 314.2 1106.7 C313.6 1091.7 312.3 1075.2 313.3 1066.7 C314.3 1058.2 316.8 1059.1 320.0 1056.0 C323.2 1052.9 332.5 1048.3 332.5 1048.3Z" fill="#f0bad3"/>
<ellipse cx="290.6" cy="670.1" rx="58.2" ry="71.1" transform="rotate(7.3 290.6 670.1)" fill="#be859e"/>
<ellipse cx="278.5" cy="663.2" rx="61.3" ry="70.9" transform="rotate(10.75 278.5 663.2)" fill="#ef8bb5"/>
<path d="M258.0 612.2 C255.8 612.4 252.2 613.4 250.0 614.3 C247.8 615.2 246.4 616.1 244.7 617.7 C243.0 619.3 241.4 621.6 240.0 623.7 C238.6 625.8 237.2 627.9 236.0 630.3 C234.8 632.7 233.6 635.3 232.7 638.3 C231.8 641.3 231.1 645.0 230.7 648.3 C230.2 651.6 230.1 655.2 230.0 658.3 C229.9 661.4 229.8 663.9 230.0 667.0 C230.2 670.1 230.3 673.8 231.0 677.0 C231.7 680.2 232.2 683.3 234.0 686.0 C235.8 688.7 242.0 693.0 242.0 693.0 C242.0 693.0 239.4 686.5 238.5 683.0 C237.6 679.5 236.7 675.5 236.3 672.0 C235.9 668.5 235.9 665.4 236.0 662.0 C236.1 658.6 236.1 655.1 236.7 651.7 C237.2 648.3 238.0 644.6 239.3 641.7 C240.6 638.8 242.7 636.4 244.7 634.3 C246.7 632.2 249.1 630.5 251.3 629.0 C253.5 627.5 256.0 626.5 258.0 625.0 C260.0 623.5 262.2 621.8 263.3 620.3 C264.4 618.8 264.9 617.5 264.8 616.3 C264.8 615.1 264.1 613.7 263.0 613.0 C261.9 612.3 260.2 612.0 258.0 612.2Z" fill="#f0bad3"/>
<ellipse cx="285" cy="853.4" rx="76.8" ry="11.2" fill="none" stroke="#fff" stroke-width="2.4" stroke-dasharray="1.7 1.1" opacity="0.95"/>
<ellipse cx="285.4" cy="1007.5" rx="81.7" ry="11.3" fill="none" stroke="#fff" stroke-width="2.4" stroke-dasharray="1.7 1.1" opacity="0.95"/>
<path d="M343.8 831 L362.5 853.9 Q347.5 853.8 332.5 856.5 L341.5 847.1 Q343.5 840 343.8 831Z" fill="#fff"/>
<path d="M338.6 1003.9 Q352.5 1006.5 367.9 1006.1 L349.1 1029.7 Q349.5 1021 347.2 1014 Q344 1008.5 338.6 1003.9Z" fill="#fff"/>
<text x="285.4" y="889.8" font-family="Liberation Sans, sans-serif" font-size="16" fill="#fff" text-anchor="middle" textLength="54.5" lengthAdjust="spacingAndGlyphs">Chest</text>
<text x="285.8" y="1041" font-family="Liberation Sans, sans-serif" font-size="16" fill="#fff" text-anchor="middle" textLength="49.3" lengthAdjust="spacingAndGlyphs">Waist</text>
<line x1="47.3" y1="636" x2="47.3" y2="1446" stroke="#fff" stroke-width="3" stroke-dasharray="2.8 2.2"/>
<path d="M47.6 612 L62.3 637.9 Q54 633 47.3 634 Q40 633 33 637.9Z" fill="#fff"/>
<path d="M47.3 1470 L62.6 1442.9 Q54 1447.5 47.3 1447.8 Q40 1447.5 33 1443.2Z" fill="#fff"/>
<text transform="translate(32 1094.2) rotate(-90)" font-family="Liberation Sans, sans-serif" font-size="30" fill="#fff" textLength="105.5" lengthAdjust="spacingAndGlyphs">Height</text>
</svg>
</body></html>
